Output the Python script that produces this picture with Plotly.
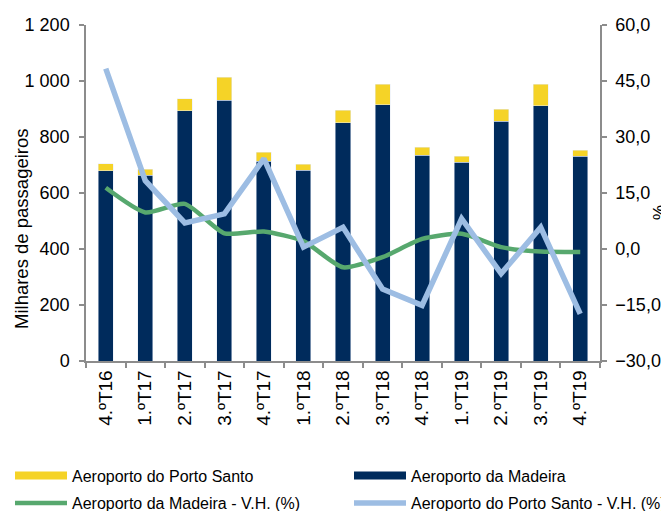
import plotly.graph_objects as go

categories = ["4.ºT16", "1.ºT17", "2.ºT17", "3.ºT17", "4.ºT17", "1.ºT18", "2.ºT18",
              "3.ºT18", "4.ºT18", "1.ºT19", "2.ºT19", "3.ºT19", "4.ºT19"]
madeira = [680, 664, 893, 932, 713, 682, 851, 916, 735, 710, 857, 911, 732]
porto_santo = [25, 21, 44, 81, 32, 20, 44, 72, 28, 22, 42, 77, 21]
madeira_vh = [16.4, 9.8, 12.1, 4.2, 4.7, 2.1, -4.9, -2.2, 2.7, 4.1, 0.5, -0.7, -0.8]
porto_santo_vh = [48.3, 18.3, 7.0, 9.4, 24.2, 0.5, 5.8, -10.7, -15.1, 8.1, -6.6, 5.8, -17.4]

C_NAVY = "#002B5C"
C_YELLOW = "#F5D327"
C_GREEN = "#57A86E"
C_BLUE = "#9DBDE3"
AX = "#8C8C8C"
FONT = "Liberation Sans, Arial, sans-serif"

# page body has an 8px margin: figure is placed at (8, 8) in the window
OFF = 8
W, H = 669 - OFF, 511 - OFF
L, T, R, B = 86 - OFF, 25 - OFF, W - (600 - OFF), H - (361 - OFF)
PW, PH = W - L - R, H - T - B

fig = go.Figure()
fig.add_trace(go.Bar(x=categories, y=madeira, marker_color=C_NAVY, showlegend=False,
                     name="Aeroporto da Madeira"))
fig.add_trace(go.Bar(x=categories, y=porto_santo, marker_color=C_YELLOW, showlegend=False,
                     name="Aeroporto do Porto Santo"))
fig.add_trace(go.Scatter(x=categories, y=madeira_vh, yaxis="y2", mode="lines",
                         line=dict(color=C_GREEN, width=4.5, shape="spline", smoothing=0.6),
                         name="Aeroporto da Madeira - V.H. (%)", legend="legend3"))
fig.add_trace(go.Scatter(x=categories, y=porto_santo_vh, yaxis="y2", mode="lines",
                         line=dict(color=C_BLUE, width=5.5),
                         name="Aeroporto do Porto Santo - V.H. (%)", legend="legend4"))
# legend proxies for the bars
fig.add_trace(go.Scatter(x=[None], y=[None], mode="lines", line=dict(color=C_YELLOW, width=8),
                         name="Aeroporto do Porto Santo", legend="legend"))
fig.add_trace(go.Scatter(x=[None], y=[None], mode="lines", line=dict(color=C_NAVY, width=8),
                         name="Aeroporto da Madeira", legend="legend2"))

def leg(x, y):
    return dict(x=(x - OFF) / W, y=1 - (y - OFF) / H, xref="container", yref="container",
                xanchor="left", yanchor="middle", orientation="v", itemwidth=52,
                font=dict(family=FONT, size=16, color="#000"), bgcolor="rgba(0,0,0,0)",
                borderwidth=0, itemclick=False, itemdoubleclick=False)

def px(x):
    return (x - OFF - L) / PW

def py(y):
    return (H - B - (y - OFF)) / PH

fig.update_layout(
    width=W, height=H,
    margin=dict(l=L, r=R, t=T, b=B, autoexpand=False),
    paper_bgcolor="white", plot_bgcolor="white",
    barmode="stack", bargap=0.62,
    separators=", ",
    font=dict(family=FONT, size=18, color="#000"),
    xaxis=dict(type="category", showline=True, linecolor=AX, linewidth=1.5,
               ticks="outside", tickson="boundaries", ticklen=5, tickcolor=AX, tickwidth=1.5,
               tickangle=-90, tickfont=dict(size=19), showgrid=False, automargin=False),
    yaxis=dict(range=[0, 1200], dtick=200, tickformat=",d", showline=True, linecolor=AX,
               linewidth=1.5, ticks="outside", ticklen=5, tickcolor=AX, tickwidth=1.5,
               tickfont=dict(size=18),
               showgrid=False, zeroline=False, automargin=False, ticklabelstandoff=6),
    yaxis2=dict(range=[-30, 60], dtick=15, tickformat=".1f", overlaying="y", side="right",
                showline=True, linecolor=AX, linewidth=1.5, ticks="outside", ticklen=5,
                tickcolor=AX, tickwidth=1.5, tickfont=dict(size=18), showgrid=False,
                zeroline=False, automargin=False, ticklabelstandoff=5),
    legend=leg(10, 475.5),
    legend2=leg(349, 475.5),
    legend3=leg(10, 503),
    legend4=leg(349, 503),
    annotations=[
        dict(text="Milhares de passageiros", xref="paper", yref="paper", x=px(21), y=py(229),
             xanchor="center", yanchor="middle", textangle=-90, showarrow=False,
             font=dict(family=FONT, size=18.5, color="#000")),
        dict(text="%", xref="paper", yref="paper", x=px(659), y=py(212),
             xanchor="center", yanchor="middle", textangle=90, showarrow=False,
             font=dict(family=FONT, size=17, color="#000")),
    ],
)

fig.write_html("out.html")
